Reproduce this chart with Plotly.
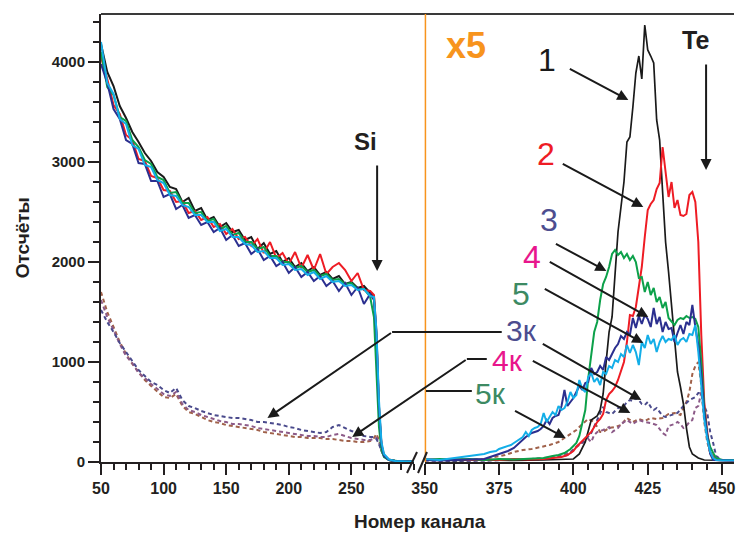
import plotly.graph_objects as go

# ---------------- data ----------------
CH_L = list(range(50, 266, 5)) + [268, 270, 272, 274, 276, 280, 285, 290, 295, 300]

BLACK_L = [4180,3900,3760,3560,3440,3300,3200,3090,3010,2900,
           2850,2750,2730,2600,2640,2510,2540,2420,2450,2350,
           2390,2300,2320,2220,2250,2130,2190,2080,2110,2000,
           2040,1950,1990,1910,1950,1870,1900,1830,1860,1780,
           1800,1740,1760,1690,
           1660,1250,520,160,60,20,10,5,5,5]
RED_L = [4050,3830,3570,3480,3270,3220,3030,3010,2860,2840,
         2720,2710,2600,2610,2490,2510,2420,2450,2350,2380,
         2280,2330,2230,2250,2160,2230,2090,2200,2040,2090,
         1980,2100,1940,2070,1920,2080,1880,1950,1990,1920,
         1810,1890,1720,1710,
         1670,1300,560,180,70,25,10,5,5,5]
GREEN_L = [4100,3750,3670,3450,3410,3220,3150,3020,2980,2850,
           2820,2690,2700,2590,2590,2490,2500,2410,2430,2330,
           2360,2270,2290,2200,2200,2130,2150,2060,2060,2000,
           2000,1940,1960,1900,1920,1860,1880,1820,1830,1780,
           1790,1730,1730,1650,
           1450,900,350,120,50,20,10,5,5,5]
BLUE_L = [3980,3790,3530,3430,3220,3180,2990,2980,2810,2810,
          2650,2680,2530,2570,2440,2470,2370,2400,2300,2340,
          2220,2270,2160,2190,2080,2130,2020,2060,1960,2000,
          1890,1950,1850,1900,1810,1860,1760,1810,1710,1790,
          1670,1750,1580,1680,
          1620,1280,560,170,60,20,10,5,5,5]
CYAN_L = [4200,3790,3680,3430,3380,3170,3130,2970,2950,2820,
          2790,2670,2660,2570,2550,2470,2470,2400,2400,2310,
          2330,2250,2250,2180,2170,2100,2110,2040,2040,1970,
          1980,1920,1930,1870,1900,1830,1860,1800,1810,1760,
          1770,1720,1730,1660,
          1650,1320,620,200,80,25,10,5,5,5]
D3K_L = [1520,1400,1300,1190,1100,1010,920,860,800,770,
         720,690,740,620,560,540,510,490,470,460,
         450,440,440,430,420,400,400,390,380,370,
         350,340,320,310,300,290,300,350,370,340,
         310,290,260,250,
         250,230,180,110,60,20,10,5,5,5]
D4K_L = [1620,1450,1320,1180,1060,990,890,840,780,730,
         680,660,700,580,520,500,470,450,430,410,
         400,380,380,370,360,340,330,320,310,300,
         290,280,270,260,260,250,250,270,280,260,
         240,230,220,220,
         230,240,200,110,60,20,10,5,5,5]
D5K_L = [1700,1500,1350,1200,1080,980,900,820,760,700,
         650,640,680,560,500,480,450,420,400,390,
         370,360,350,340,330,320,300,290,280,270,
         260,250,250,240,240,240,230,230,220,210,
         210,200,200,210,
         240,280,220,120,60,20,10,5,5,5]

BLACK_R_CH = [350,360,370,380,390,396,400,402,404,406,
              407,408,409,410,411,412,413,414,415,416,
              417,418,419,420,421,422,423,424,425,426,
              427,428,429,430,431,432,433,434,435,436,
              437,438,439,440,442,444,448,454]
BLACK_R = [20,15,20,15,20,25,30,80,200,420,
           440,460,520,680,1000,1300,1450,1900,2300,2550,
           2800,3200,3250,3550,3890,4060,3830,4370,4120,4060,
           3990,3420,3220,2700,2200,1900,1580,1250,900,750,
           580,340,150,80,40,20,15,15]

RED_R_CH = [350,355,360,365,370,375,380,385,390,394,396,398,399] + list(range(400, 447)) + [448,450,454]
RED_R = [30,25,30,20,25,20,30,25,30,40,50,70,90,
         110,150,180,210,230,260,300,350,400,430,
         480,620,680,710,750,820,900,1000,1200,1470,
         1460,1550,1750,1950,2250,2520,2580,2620,2730,2790,
         3150,2880,2650,2800,2540,2620,2470,2460,2480,2670,
         2700,2600,2200,1270,600,300,90,
         20,15,10]

GREEN_R_CH = [350,355,360,365,370,375,380,385,390,393,395,397,399] + list(range(400, 449)) + [450,454]
GREEN_R = [20,30,25,30,20,30,25,30,40,60,70,90,130,
           160,190,260,380,520,840,1100,1300,1400,1620,
           1780,1850,1950,2080,2120,2070,2100,2040,2080,2020,
           2060,2000,1840,1850,1700,1800,1670,1740,1600,1650,
           1540,1600,1440,1400,1370,1420,1440,1430,1460,1440,
           1450,1430,1350,1000,540,270,150,90,40,
           20,20]

BLUE_R_CH = [350,355,360,365,370,372,374,376,378,380,382,384,386,388,389,
             390,391,392,393,394,395,396,397,398,399] + list(range(400, 448)) + [450,454]
BLUE_R = [20,15,20,25,30,50,70,90,110,140,200,250,290,310,330,
          360,420,380,440,460,470,560,720,560,600,
          640,700,760,720,790,800,940,880,900,960,
          920,1050,1020,1080,1140,1180,1260,1230,1300,1270,
          1440,1340,1460,1380,1470,1430,1350,1540,1380,1450,
          1300,1400,1330,1340,1200,1290,1370,1280,1400,1370,
          1570,1350,1170,870,500,270,80,20,
          15,15]

CYAN_R_CH = [350,355,360,363,366,368,370,372,374,375,377,379,380,382,383,384,385,386,387,388,389,
             390,391,392,393,394,395,396,397,398,399] + list(range(400, 449)) + [450,454]
CYAN_R = [30,20,40,50,60,70,80,100,110,130,150,170,190,230,250,300,260,320,340,350,380,
          490,400,450,500,470,560,520,540,600,700,
          640,670,820,730,700,850,890,800,840,770,
          900,880,960,940,1020,1000,1080,1050,1170,1090,
          1170,1100,970,1200,1140,1270,1180,1230,1100,1200,
          1260,1200,1230,1220,1270,1170,1220,1240,1200,1280,
          1270,1370,1100,770,430,230,100,40,20,
          15,15]

D5K_R_CH = [350,360,370,374,377,380,383,386,389,392,
            395,397,399,401,403,405,407,409,410,412,
            414,416,418,420,422,424,426,428,430,432,
            434,436,437,438,439,440,441,442,443,444,
            445,446,448,454]
D5K_R = [20,15,30,50,70,100,120,130,150,170,
         200,240,280,320,380,430,400,300,300,340,
         350,370,440,400,430,410,440,430,440,480,
         490,470,540,600,700,880,960,1000,770,400,
         200,90,20,15]

D4K_R_CH = [350,360,370,380,386,390,394,397,399,401,
            403,405,406,407,408,410,412,413,415,416,
            418,419,420,422,424,426,428,429,430,431,
            432,434,435,436,437,438,439,440,441,442,
            443,444,445,446,448,454]
D4K_R = [15,10,15,20,30,40,50,80,100,150,
         190,230,200,270,300,320,350,300,340,380,
         420,400,380,420,400,390,370,330,290,270,
         360,380,400,380,340,360,400,420,540,560,
         700,450,270,100,25,15]

D3K_R_CH = [350,360,370,380,390,395,398,399,400,401,
            402,404,406,408,409,410,411,412,413,415,
            417,418,419,420,421,422,423,424,425,426,
            427,428,429,430,431,433,435,437,439,441,
            442,443,444,445,446,447,448,450,454]
D3K_R = [15,10,15,20,30,50,70,90,120,150,
         180,220,290,420,480,550,500,490,480,540,
         560,600,620,610,640,620,580,570,600,550,
         520,540,500,460,450,470,490,560,620,650,
         690,690,560,490,300,190,60,20,15]

X_TICKS_L = [50, 100, 150, 200, 250]
X_TICKS_R = [350, 375, 400, 425, 450]

# ---------------- layout helpers ----------------
W, H = 736, 533
ML, MR, MT, MB = 101, 0, 14, 71
PW = W - ML - MR
PH = H - MT - MB


def px(x):
    return (x - ML) / PW


def py(y):
    return (H - MB - y) / PH


AX = "#231f20"
FONT = "Liberation Sans, Arial, Helvetica, sans-serif"

C_BLACK = "#1a1a1a"
C_RED = "#ee1c24"
C_GREEN = "#0ca14a"
C_BLUE = "#2b2f8f"
C_CYAN = "#13aee8"
C_D3 = "#4a4a8c"
C_D4 = "#8c5a88"
C_D5 = "#a0614a"

fig = go.Figure()

dash = "4px,3px"
for xs, ys, col in [(CH_L, D5K_L, C_D5), (CH_L, D4K_L, C_D4), (CH_L, D3K_L, C_D3)]:
    fig.add_trace(go.Scatter(x=xs, y=ys, mode="lines", xaxis="x", yaxis="y",
                             line=dict(color=col, width=2, dash=dash)))
for xs, ys, col in [(D5K_R_CH, D5K_R, C_D5), (D4K_R_CH, D4K_R, C_D4), (D3K_R_CH, D3K_R, C_D3)]:
    fig.add_trace(go.Scatter(x=xs, y=ys, mode="lines", xaxis="x2", yaxis="y",
                             line=dict(color=col, width=2, dash=dash)))

for ys, col in [(BLACK_L, C_BLACK), (RED_L, C_RED), (GREEN_L, C_GREEN), (BLUE_L, C_BLUE), (CYAN_L, C_CYAN)]:
    fig.add_trace(go.Scatter(x=CH_L, y=ys, mode="lines", xaxis="x", yaxis="y",
                             line=dict(color=col, width=2)))
for xs, ys, col in [(BLACK_R_CH, BLACK_R, C_BLACK), (RED_R_CH, RED_R, C_RED), (GREEN_R_CH, GREEN_R, C_GREEN),
                    (BLUE_R_CH, BLUE_R, C_BLUE), (CYAN_R_CH, CYAN_R, C_CYAN)]:
    fig.add_trace(go.Scatter(x=xs, y=ys, mode="lines", xaxis="x2", yaxis="y",
                             line=dict(color=col, width=2 if col != C_BLACK else 1.7)))

tickfont = dict(family=FONT, size=16, color=AX, weight="bold")
common_x = dict(showline=True, linecolor=AX, linewidth=2, ticks="outside", ticklen=11,
                tickwidth=2, tickcolor=AX, showgrid=False, zeroline=False,
                tickfont=tickfont, fixedrange=True, anchor="y", ticklabeloverflow="allow")

fig.update_layout(
    width=W, height=H,
    margin=dict(l=ML, r=MR, t=MT, b=MB),
    paper_bgcolor="white", plot_bgcolor="white",
    showlegend=False,
    xaxis=dict(domain=[0, px(415)], range=[50, 300], tickmode="array", tickvals=X_TICKS_L,
               minor=dict(tickmode="linear", tick0=50, dtick=10, ticks="outside", ticklen=6,
                          tickwidth=2, tickcolor=AX),
               **common_x),
    xaxis2=dict(domain=[px(425.7), 1], range=[350, 454], tickmode="array", tickvals=X_TICKS_R,
                minor=dict(tickmode="linear", tick0=350, dtick=5, ticks="outside", ticklen=6,
                           tickwidth=2, tickcolor=AX),
                **common_x),
    yaxis=dict(range=[0, 4480], showline=True, linecolor=AX, linewidth=2, ticks="outside",
               ticklen=11, tickwidth=2, tickcolor=AX, dtick=1000, tick0=0,
               minor=dict(dtick=200, ticks="outside", ticklen=6, tickwidth=2, tickcolor=AX),
               showgrid=False, zeroline=False, tickfont=dict(family=FONT, size=15, color=AX, weight="bold"),
               fixedrange=True, anchor="x"),
)

shapes = []
# top border
shapes.append(dict(type="line", xref="paper", yref="paper", x0=0, x1=1, y0=1, y1=1,
                   line=dict(color="#3a3a3a", width=2)))
# orange x5 line
shapes.append(dict(type="line", xref="x2", yref="paper", x0=350, x1=350, y0=0, y1=1,
                   line=dict(color="#f7941d", width=3)))
# axis break marks
for (x0, y0, x1, y1) in [(408, 473, 418, 452), (419, 473, 428, 452)]:
    shapes.append(dict(type="line", xref="paper", yref="paper", x0=px(x0), y0=py(y0), x1=px(x1), y1=py(y1),
                       line=dict(color=AX, width=2)))
# leader lines (horizontal parts)
for (x0, y0, x1, y1) in [(393, 332, 503, 332), (468, 359, 488, 359), (427, 391, 473, 391)]:
    shapes.append(dict(type="line", xref="paper", yref="paper", x0=px(x0), y0=py(y0), x1=px(x1), y1=py(y1),
                       line=dict(color="#1a1a1a", width=2)))
fig.update_layout(shapes=shapes)

ann = []


def arrow(tail, tip):
    ann.append(dict(xref="paper", yref="paper", x=px(tip[0]), y=py(tip[1]),
                    ax=tail[0] - tip[0], ay=tail[1] - tip[1], axref="pixel", ayref="pixel",
                    text="", showarrow=True, arrowhead=2, arrowsize=1.1, arrowwidth=2,
                    arrowcolor="#1a1a1a", standoff=0, startstandoff=0))


arrow((570, 68), (630, 100))
arrow((563, 163), (645, 207))
arrow((556, 243), (608, 271))
arrow((550, 261), (650, 317))
arrow((545, 288), (645, 343))
arrow((543, 343), (643, 400))
arrow((533, 360), (632, 413))
arrow((515, 410), (567, 438))
arrow((393, 332), (268, 418))
arrow((468, 359), (353, 437))
arrow((378, 164), (378, 271))
arrow((708, 63), (708, 170))


def label(text, x, y, size, color, bold=False):
    ann.append(dict(xref="paper", yref="paper", x=px(x), y=py(y), text=text, showarrow=False,
                    xanchor="center", yanchor="middle",
                    font=dict(family=FONT, size=size, color=color, weight="bold" if bold else "normal")))


label("Si", 366, 141, 24, "#231f20", True)
label("Te", 697, 40, 25, "#231f20", True)
label("x5", 467, 45, 36, "#f7941d", True)
label("1", 548, 60, 32, "#1a1a1a")
label("2", 547, 154, 32, C_RED)
label("3", 550, 220, 32, "#4d4d8f")
label("4", 533, 257, 32, "#e8168c")
label("5", 522, 294, 32, "#3d8a63")
label("3к", 523, 330, 30, "#4d4d8f")
label("4к", 509, 360, 30, "#e8168c")
label("5к", 492, 393, 30, "#3d8a63")

ann.append(dict(xref="paper", yref="paper", x=px(421), y=py(521), text="Номер канала", showarrow=False,
                xanchor="center", yanchor="middle",
                font=dict(family=FONT, size=19, color=AX, weight="bold")))
ann.append(dict(xref="paper", yref="paper", x=px(22), y=py(238), text="Отсчёты", showarrow=False,
                xanchor="center", yanchor="middle", textangle=-90,
                font=dict(family=FONT, size=19, color=AX, weight="bold")))
fig.update_layout(annotations=ann)

fig.write_html("out.html", config={"displayModeBar": False},
               post_script="document.body.style.margin='0';document.body.style.padding='0';")
